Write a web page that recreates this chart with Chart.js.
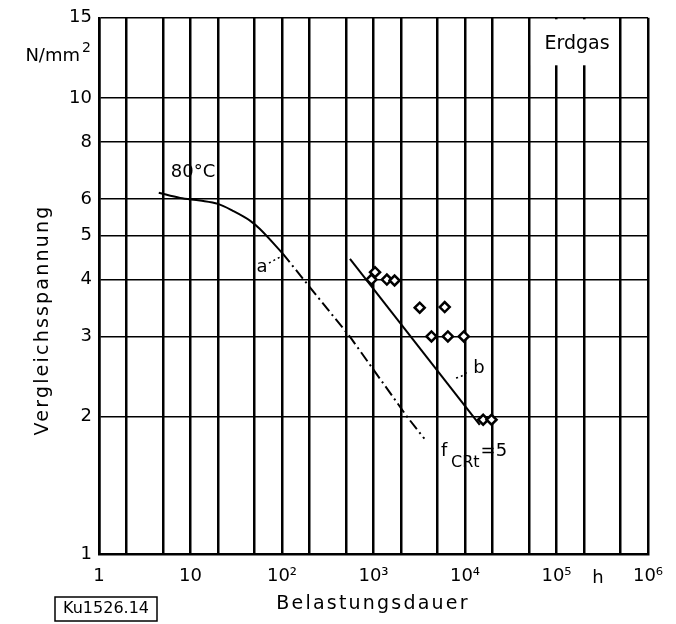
<!DOCTYPE html>
<html>
<head>
<meta charset="utf-8">
<script src="https://cdn.jsdelivr.net/npm/chart.js@4.4.0/dist/chart.umd.min.js"></script>
<style>
  html, body { margin: 0; padding: 0; background: #fff; }
</style>
</head>
<body>
<canvas id="zeitstand" width="676" height="624"></canvas>
<script>
// Kurve a (80 °C), flacher Teil
const kurveA_x = [4.5, 7.7, 12.7, 20, 29, 45, 57, 102];
const kurveA_y = [6.2, 6.04, 5.96, 5.86, 5.66, 5.38, 5.17, 4.56];
// Kurve a, extrapolierter Teil (strichpunktiert)
const kurveA2_x = [102, 203, 550, 2330, 3600];
const kurveA2_y = [4.56, 3.84, 3.0, 2.0, 1.79];
// Gerade b
const geradeB_x = [553, 14500];
const geradeB_y = [4.44, 1.92];
// Messpunkte
const mess_x = [950, 1040, 1400, 1700, 3200, 6000, 4300, 6500, 9700, 15800, 19500];
const mess_y = [4.0, 4.15, 4.0, 3.98, 3.47, 3.48, 3.0, 3.0, 3.0, 1.97, 1.97];

// Achsen
const xGitter = [1, 2, 5, 10, 20, 50, 100, 200, 500, 1e3, 2e3, 5e3, 1e4, 2e4, 5e4, 1e5, 2e5, 5e5, 1e6];
const xBeschriftungWerte = [1, 10, 100, 1e3, 1e4, 1e5, 1e6];
const xBeschriftungen = ["1", "10", "10²", "10³", "10⁴", "10⁵", "10⁶"];
const yGitter = [1, 2, 3, 4, 5, 6, 8, 10, 15];

const schrift = "'DejaVu Sans', sans-serif";

function punkte(xs, ys) {
  return xs.map((x, i) => ({ x: x, y: ys[i] }));
}

// Beschriftungen im Diagramm
const textPlugin = {
  id: "texte",
  beforeDatasetsDraw(chart) {
    const ctx = chart.ctx;
    const xs = chart.scales.x;
    // weisses Feld hinter "Erdgas"
    const x1 = xs.getPixelForValue(5e4) + 2;
    const x2 = xs.getPixelForValue(5e5) - 2;
    ctx.save();
    ctx.fillStyle = "#fff";
    ctx.fillRect(x1, chart.chartArea.top + 1.5, x2 - x1, 46);
    ctx.restore();
  },
  afterDatasetsDraw(chart) {
    const ctx = chart.ctx;
    ctx.save();
    ctx.fillStyle = "#000";
    ctx.strokeStyle = "#000";

    ctx.font = "18px " + schrift;
    ctx.textAlign = "center";
    ctx.textBaseline = "middle";
    ctx.fillText("80°C", 193, 172);
    ctx.fillText("a", 262, 267);
    ctx.fillText("b", 479, 368);
    ctx.font = "19px " + schrift;
    ctx.fillText("Erdgas", 577, 44);
    ctx.font = "18px " + schrift;
    ctx.fillText("h", 598, 578);

    // f_CRt = 5
    ctx.textAlign = "left";
    ctx.textBaseline = "alphabetic";
    ctx.font = "18px " + schrift;
    ctx.fillText("f", 441, 456);
    ctx.font = "16px " + schrift;
    ctx.fillText("CRt", 451, 467);
    const w = ctx.measureText("CRt").width;
    ctx.font = "18px " + schrift;
    ctx.fillText("=5", 451 + w + 1, 456);

    // N/mm²
    ctx.textAlign = "right";
    ctx.fillText("N/mm", 80, 61);
    ctx.font = "14px " + schrift;
    ctx.fillText("2", 91, 52);

    // Achsentitel
    ctx.font = "19px " + schrift;
    ctx.letterSpacing = "2.2px";
    ctx.textAlign = "center";
    ctx.textBaseline = "middle";
    ctx.fillText("Belastungsdauer", 373, 604);
    ctx.translate(43, 320);
    ctx.rotate(-Math.PI / 2);
    ctx.fillText("Vergleichsspannung", 0, 0);
    ctx.setTransform(1, 0, 0, 1, 0, 0);
    ctx.letterSpacing = "0px";

    // Kennzeichen unten links
    ctx.lineWidth = 1.5;
    ctx.strokeRect(55, 597, 102, 24);
    ctx.font = "16px " + schrift;
    ctx.fillText("Ku1526.14", 106, 609);

    // Hinweisstriche
    ctx.setLineDash([2, 3]);
    ctx.lineWidth = 1.5;
    ctx.beginPath();
    ctx.moveTo(269, 263); ctx.lineTo(282, 256);
    ctx.moveTo(456, 378); ctx.quadraticCurveTo(464, 376, 468, 371);
    ctx.stroke();
    ctx.restore();
  }
};

new Chart(document.getElementById("zeitstand"), {
  type: "scatter",
  data: {
    datasets: [
      {
        data: punkte(kurveA_x, kurveA_y),
        showLine: true,
        borderColor: "#000",
        borderWidth: 2,
        cubicInterpolationMode: "monotone",
        pointRadius: 0,
      },
      {
        data: punkte(kurveA2_x, kurveA2_y),
        showLine: true,
        borderColor: "#000",
        borderWidth: 2,
        borderDash: [11, 4, 2, 4],
        tension: 0,
        pointRadius: 0,
      },
      {
        data: punkte(geradeB_x, geradeB_y),
        showLine: true,
        borderColor: "#000",
        borderWidth: 2,
        pointRadius: 0,
      },
      {
        data: punkte(mess_x, mess_y),
        showLine: false,
        pointStyle: "rectRot",
        pointRadius: 5,
        borderColor: "#000",
        borderWidth: 2.5,
        backgroundColor: "#fff",
      },
    ],
  },
  options: {
    responsive: false,
    animation: false,
    layout: { padding: { top: 16, right: 28, left: 0, bottom: 0 } },
    plugins: {
      legend: { display: false },
      tooltip: { enabled: false },
    },
    scales: {
      x: {
        type: "logarithmic",
        min: 1,
        max: 1e6,
        afterBuildTicks: (s) => { s.ticks = xGitter.map((v) => ({ value: v })); },
        afterFit: (s) => { s.height = 70; },
        ticks: {
          color: "#000",
          font: { family: schrift, size: 18 },
          padding: 12,
          autoSkip: false,
          maxRotation: 0,
          callback: (v) => {
            const i = xBeschriftungWerte.indexOf(v);
            return i >= 0 ? xBeschriftungen[i] : "";
          },
        },
        grid: { color: "#000", lineWidth: 2.5, drawTicks: false },
        border: { color: "#000", width: 2.5 },
      },
      y: {
        type: "logarithmic",
        min: 1,
        max: 15,
        afterBuildTicks: (s) => { s.ticks = yGitter.map((v) => ({ value: v })); },
        afterFit: (s) => { s.width = 99; },
        ticks: {
          color: "#000",
          font: { family: schrift, size: 18 },
          padding: 7,
          autoSkip: false,
          callback: (v) => String(v),
        },
        grid: { color: "#000", lineWidth: 1.6, drawTicks: false },
        border: { color: "#000", width: 2.5 },
      },
    },
  },
  plugins: [textPlugin],
});
</script>
</body>
</html>
